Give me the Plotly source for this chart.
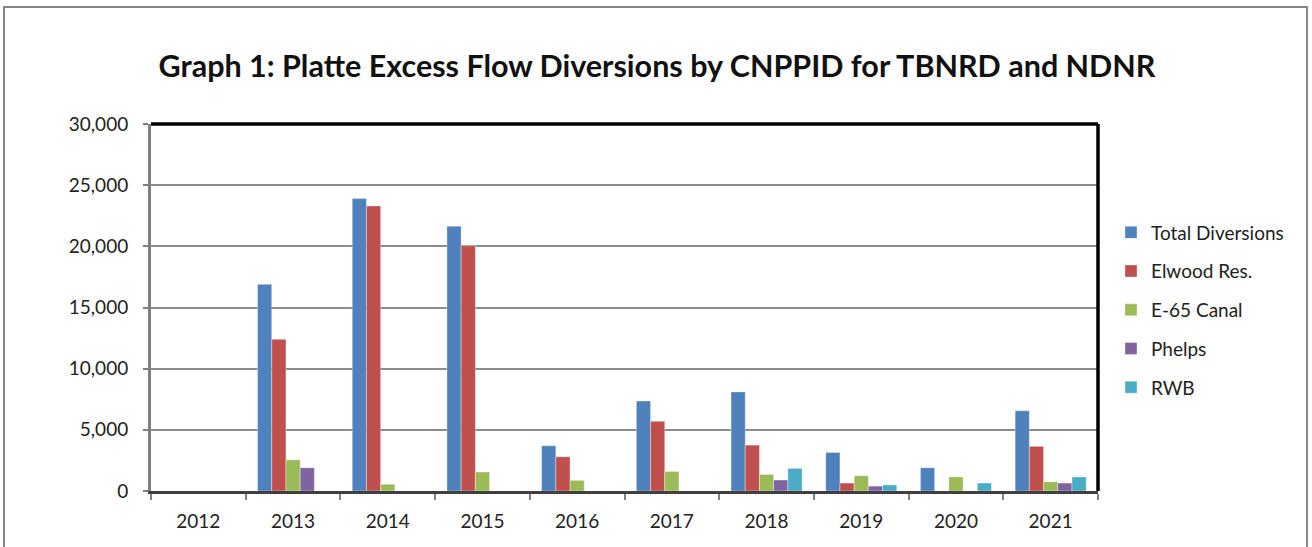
import plotly.graph_objects as go

years = ["2012", "2013", "2014", "2015", "2016", "2017", "2018", "2019", "2020", "2021"]
total_diversions = [0, 16900, 23900, 21650, 3700, 7350, 8100, 3150, 1900, 6550]
elwood_res = [0, 12400, 23300, 20050, 2800, 5700, 3750, 650, 0, 3650]
e65_canal = [0, 2550, 550, 1550, 870, 1600, 1350, 1250, 1150, 750]
phelps = [0, 1900, 0, 0, 0, 0, 900, 400, 0, 650]
rwb = [0, 0, 0, 0, 0, 0, 1850, 500, 650, 1150]

series_names = ["Total Diversions", "Elwood Res.", "E-65 Canal", "Phelps", "RWB"]
series_values = [total_diversions, elwood_res, e65_canal, phelps, rwb]
series_colors = ["#4F81BD", "#C0504D", "#9BBB59", "#8064A2", "#4BACC6"]

FONT = "Lato"

fig = go.Figure()
for i, (name, vals, col) in enumerate(zip(series_names, series_values, series_colors)):
    fig.add_trace(go.Bar(
        x=years, y=vals, name=name, legendgroup=name,
        marker=dict(color=col, line=dict(width=0.6, color="rgba(255,255,255,0.6)")),
    ))

W, H = 1312, 547
L, R, T, B = 151, 1098, 124, 491
pw, ph = R - L, B - T

def px_x(x):
    return (x - L) / pw

def px_y(y):
    return (B - y) / ph

fig.update_layout(
    width=W, height=H,
    margin=dict(l=L, r=W - R, t=T, b=H - B, pad=0),
    paper_bgcolor="white", plot_bgcolor="white",
    barmode="group", bargap=0.25, bargroupgap=0,
    font=dict(family=FONT, size=19, color="#222222"),
    title=dict(
        text="<b>Graph 1: Platte Excess Flow Diversions by CNPPID for TBNRD and NDNR</b>",
        x=657 / W, xanchor="center", xref="container",
        y=(H - 66) / H, yanchor="middle", yref="container",
        font=dict(family=FONT, size=30.5, color="#111111"),
    ),
    legend=dict(
        x=px_x(1111), xanchor="left", y=px_y(310), yanchor="middle",
        yref="paper", font=dict(family=FONT, size=19, color="#222222"),
        tracegroupgap=11, itemwidth=30, bgcolor="rgba(0,0,0,0)",
    ),
    showlegend=True,
    xaxis=dict(
        type="category", tickson="boundaries", ticks="outside", ticklen=6,
        tickcolor="#808080", tickwidth=2,
        showline=True, linecolor="#404040", linewidth=3,
        showgrid=False, tickfont=dict(family=FONT, size=19, color="#222222"),
        ticklabelstandoff=11,
    ),
    yaxis=dict(
        range=[0, 30000], dtick=5000, tickformat=",", ticks="outside", ticklen=5,
        tickcolor="#808080", tickwidth=2,
        showline=True, linecolor="#808080", linewidth=3,
        showgrid=True, gridcolor="#8C8C8C", gridwidth=2,
        zeroline=False, tickfont=dict(family=FONT, size=19, color="#222222"),
        ticklabelstandoff=11,
    ),
    shapes=[
        dict(type="rect", xref="paper", yref="paper",
             x0=px_x(4), x1=px_x(1307), y0=px_y(7), y1=px_y(570),
             line=dict(color="#868686", width=2), fillcolor="rgba(0,0,0,0)", layer="below"),
        dict(type="line", xref="paper", yref="paper",
             x0=0, x1=1, y0=1, y1=1, line=dict(color="black", width=3.5)),
        dict(type="line", xref="paper", yref="paper",
             x0=1, x1=1, y0=0, y1=1, line=dict(color="black", width=3.5)),
    ],
)

fig.write_html(
    "out.html",
    config={"displayModeBar": False},
    post_script="document.body.style.margin='0px';document.body.style.overflow='hidden';",
)
